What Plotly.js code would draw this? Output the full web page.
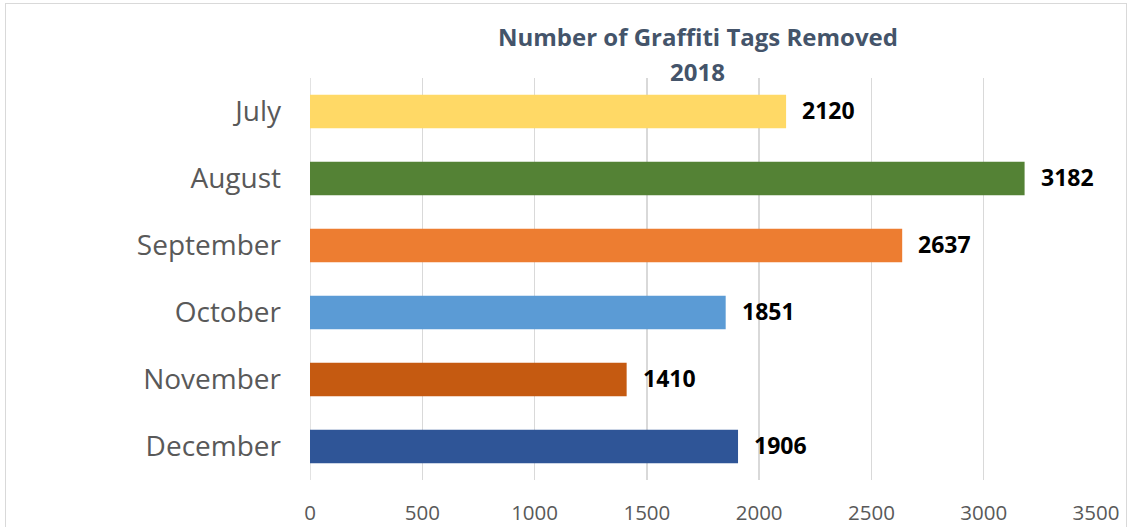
<!DOCTYPE html>
<html>
<head>
<meta charset="utf-8">
<script src="https://cdn.plot.ly/plotly-3.0.1.min.js"></script>
<style>
  html, body { margin: 0; padding: 0; background: #fff; }
  #chart { width: 1130px; height: 527px; }
  #frame { position: absolute; left: 5px; top: 3px; width: 1120px; height: 540px; border: 1.5px solid #d9d9d9; pointer-events: none; }
</style>
</head>
<body>
<div id="chart"></div>
<div id="frame"></div>
<script>
const months = ["July", "August", "September", "October", "November", "December"];
const tagsRemoved = [2120, 3182, 2637, 1851, 1410, 1906];
const barColors = ["#FFD966", "#548235", "#ED7D31", "#5B9BD5", "#C55A11", "#2F5597"];
const xTicks = [0, 500, 1000, 1500, 2000, 2500, 3000, 3500];
const titleLines = ["Number of Graffiti Tags Removed", "2018"];

const annotations = months.map((m, i) => ({
  x: tagsRemoved[i], y: m, xref: "x", yref: "y",
  text: "<b>" + tagsRemoved[i] + "</b>",
  showarrow: false, xanchor: "left", yanchor: "middle",
  xshift: 14, yshift: 2,
  font: { family: "Open Sans, sans-serif", size: 23, color: "#000000" }
}));

// Title lines (centred over the plot, two lines)
const titleY = [1.102, 1.017];
titleLines.forEach((t, i) => {
  annotations.push({
    x: 0.4936, y: titleY[i], xref: "paper", yref: "paper",
    text: "<b>" + t + "</b>", showarrow: false,
    xanchor: "center", yanchor: "middle",
    font: { family: "Open Sans, sans-serif", size: 24, color: "#44546A" }
  });
});

const trace = {
  type: "bar",
  orientation: "h",
  y: months,
  x: tagsRemoved,
  marker: { color: barColors },
  hoverinfo: "x+y"
};

const layout = {
  width: 1130, height: 527,
  margin: { l: 310, r: 34, t: 78, b: 47 },
  paper_bgcolor: "#ffffff", plot_bgcolor: "#ffffff",
  showlegend: false,
  bargap: 0.5,
  xaxis: {
    range: [0, 3500], tickvals: xTicks, ticktext: xTicks.map(String),
    showgrid: true, gridcolor: "#d9d9d9", gridwidth: 1.5,
    zeroline: false, showline: false, ticks: "",
    ticklabelstandoff: 18,
    tickfont: { family: "Open Sans, sans-serif", size: 20.5, color: "#595959" },
    fixedrange: true
  },
  yaxis: {
    autorange: "reversed", type: "category",
    showgrid: false, zeroline: false, showline: false, ticks: "",
    ticklabelstandoff: 28,
    tickfont: { family: "Open Sans, sans-serif", size: 28, color: "#595959" },
    fixedrange: true
  },
  shapes: [{
    type: "line", xref: "x", yref: "paper", x0: 0, x1: 0, y0: 0, y1: 1,
    line: { color: "#d9d9d9", width: 1.5 }, layer: "below"
  }],
  annotations: annotations
};

Plotly.newPlot("chart", [trace], layout, { displayModeBar: false, staticPlot: true });
</script>
</body>
</html>
